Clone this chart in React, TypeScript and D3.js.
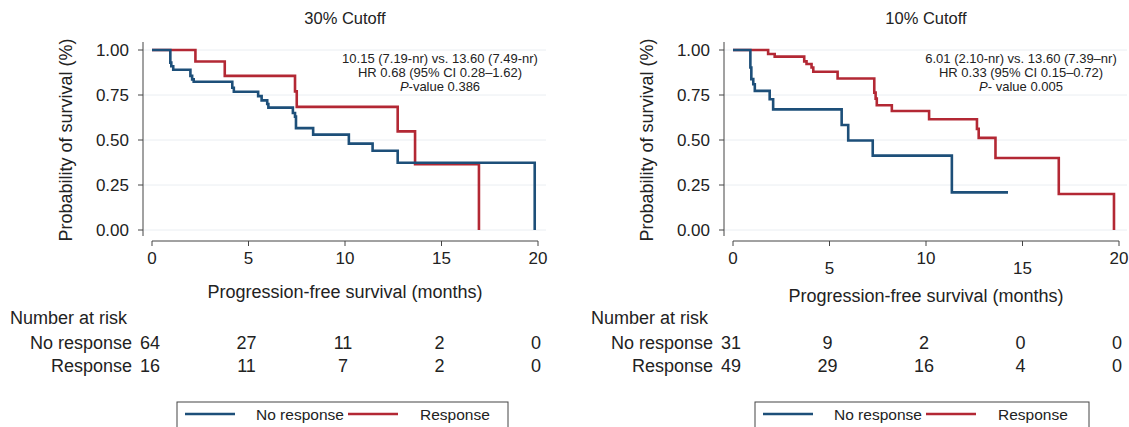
import React from 'react';
import * as d3 from 'd3';

type Step = [number, number];

// Kaplan–Meier steps [month, survival]
const leftNoResponse: Step[] = [
  [0, 1], [0.95, 0.93], [1.0, 0.91], [1.1, 0.89], [1.99, 0.856], [2.08, 0.837], [2.16, 0.824],
  [4.16, 0.79], [4.24, 0.768], [5.5, 0.744], [5.68, 0.72], [5.97, 0.7], [6.03, 0.68],
  [7.3, 0.65], [7.41, 0.63], [7.46, 0.566], [8.35, 0.53], [10.2, 0.48], [11.43, 0.44],
  [12.73, 0.374], [19.83, 0],
];
const leftResponse: Step[] = [
  [0, 1], [2.25, 0.936], [3.77, 0.856], [7.41, 0.77], [7.5, 0.684], [12.73, 0.548],
  [13.63, 0.366], [16.94, 0],
];
const rightNoResponse: Step[] = [
  [0, 1], [0.9, 0.903], [0.95, 0.838], [1.05, 0.81], [1.13, 0.773], [1.9, 0.726], [2.08, 0.67],
  [5.63, 0.583], [5.97, 0.497], [7.24, 0.413], [11.34, 0.209], [14.25, 0.209],
];
const rightResponse: Step[] = [
  [0, 1], [1.82, 0.978], [2.16, 0.963], [3.69, 0.937], [3.81, 0.922], [4.07, 0.903], [4.16, 0.879],
  [5.42, 0.842], [7.32, 0.763], [7.39, 0.73], [7.45, 0.693], [8.23, 0.661], [10.16, 0.615],
  [12.64, 0.562], [12.73, 0.512], [13.6, 0.4], [16.88, 0.2], [19.74, 0],
];

const xTicks = [0, 5, 10, 15, 20];
const yTicks = [0, 0.25, 0.5, 0.75, 1];
const riskMonths = [0, 5, 10, 15, 20];
const leftRiskNo = [64, 27, 11, 2, 0];
const leftRiskYes = [16, 11, 7, 2, 0];
const rightRiskNo = [31, 9, 2, 0, 0];
const rightRiskYes = [49, 29, 16, 4, 0];

const BLUE = '#1d4f79';
const RED = '#b32834';
const TXT = '#222';
const FONT = '"Liberation Sans", Arial, sans-serif';
const FS = 18;

interface PanelProps {
  x0: number;
  title: string;
  stats: string[];
  noResp: Step[];
  resp: Step[];
  riskNo: number[];
  riskYes: number[];
  xLabelY: number;
  staggerTicks: boolean;
}

const Panel: React.FC<PanelProps> = ({ x0, title, stats, noResp, resp, riskNo, riskYes, xLabelY, staggerTicks }) => {
  const x = d3.scaleLinear().domain([0, 20]).range([x0 + 152, x0 + 538]);
  const y = d3.scaleLinear().domain([0, 1]).range([230, 50]);
  const line = d3.line<Step>().x(d => x(d[0])).y(d => y(d[1])).curve(d3.curveStepAfter);
  const axisX = x0 + 143;
  const mid = (x(0) + x(20)) / 2;
  return (
    <g fontFamily={FONT} fill={TXT}>
      <text x={mid} y={24} textAnchor="middle" fontSize={16.5}>{title}</text>
      {yTicks.map(t => (
        <g key={t}>
          <line x1={axisX} x2={x(20) + 8} y1={y(t)} y2={y(t)} stroke="#eaeef2" strokeWidth={1} />
          <line x1={axisX - 5} x2={axisX} y1={y(t)} y2={y(t)} stroke="#444" />
          <text x={axisX - 14} y={y(t) + 6} textAnchor="end" fontSize={17}>{t.toFixed(2)}</text>
        </g>
      ))}
      <line x1={axisX} x2={axisX} y1={42} y2={236} stroke="#444" />
      <line x1={x(0)} x2={x(20)} y1={241} y2={241} stroke="#444" />
      {xTicks.map((t, i) => (
        <g key={t}>
          <line x1={x(t)} x2={x(t)} y1={241} y2={246} stroke="#444" />
          <text x={x(t)} y={staggerTicks && i % 2 === 1 ? 274 : 264} textAnchor="middle" fontSize={17}>{t}</text>
        </g>
      ))}
      <text transform={`translate(${x0 + 72},140) rotate(-90)`} textAnchor="middle" fontSize={FS}>Probability of survival (%)</text>
      <text x={mid} y={xLabelY} textAnchor="middle" fontSize={FS}>Progression-free survival (months)</text>
      <path d={line(resp) ?? ''} fill="none" stroke={RED} strokeWidth={2.6} />
      <path d={line(noResp) ?? ''} fill="none" stroke={BLUE} strokeWidth={2.6} />
      {stats.map((s, i) => (
        <text key={i} x={x0 + 440} y={63 + i * 14} textAnchor="middle" fontSize={13}>
          {s.startsWith('P') ? (<><tspan fontStyle="italic">P</tspan>{s.slice(1)}</>) : s}
        </text>
      ))}
      <text x={x0 + 10} y={324} fontSize={FS}>Number at risk</text>
      <text x={x0 + 132} y={349} textAnchor="end" fontSize={FS}>No response</text>
      <text x={x0 + 132} y={372} textAnchor="end" fontSize={FS}>Response</text>
      {riskMonths.map((m, i) => (
        <g key={m}>
          <text x={x(m) - 2} y={349} textAnchor="middle" fontSize={FS}>{riskNo[i]}</text>
          <text x={x(m) - 2} y={372} textAnchor="middle" fontSize={FS}>{riskYes[i]}</text>
        </g>
      ))}
    </g>
  );
};

const Legend: React.FC<{ x0: number; w: number }> = ({ x0, w }) => (
  <g fontFamily={FONT} fill={TXT}>
    <rect x={x0} y={402} width={w} height={30} fill="none" stroke="#444" />
    <line x1={x0 + 8} x2={x0 + 58} y1={414} y2={414} stroke={BLUE} strokeWidth={2.6} />
    <text x={x0 + 79} y={420} fontSize={15.5}>No response</text>
    <line x1={x0 + 171} x2={x0 + 221} y1={414} y2={414} stroke={RED} strokeWidth={2.6} />
    <text x={x0 + 243} y={420} fontSize={15.5}>Response</text>
  </g>
);

export default function App() {
  return (
    <svg width={1129} height={427} style={{ position: 'absolute', left: 0, top: 0, background: '#fff' }}>
      <Panel x0={0} title="30% Cutoff"
        stats={['10.15 (7.19-nr) vs. 13.60 (7.49-nr)', 'HR 0.68 (95% CI 0.28–1.62)', 'P-value 0.386']}
        noResp={leftNoResponse} resp={leftResponse} riskNo={leftRiskNo} riskYes={leftRiskYes}
        xLabelY={298} staggerTicks={false} />
      <Panel x0={581} title="10% Cutoff"
        stats={['6.01 (2.10-nr) vs. 13.60 (7.39–nr)', 'HR 0.33 (95% CI 0.15–0.72)', 'P- value 0.005']}
        noResp={rightNoResponse} resp={rightResponse} riskNo={rightRiskNo} riskYes={rightRiskYes}
        xLabelY={302} staggerTicks={true} />
      <Legend x0={177} w={331} />
      <Legend x0={755} w={334} />
    </svg>
  );
}
